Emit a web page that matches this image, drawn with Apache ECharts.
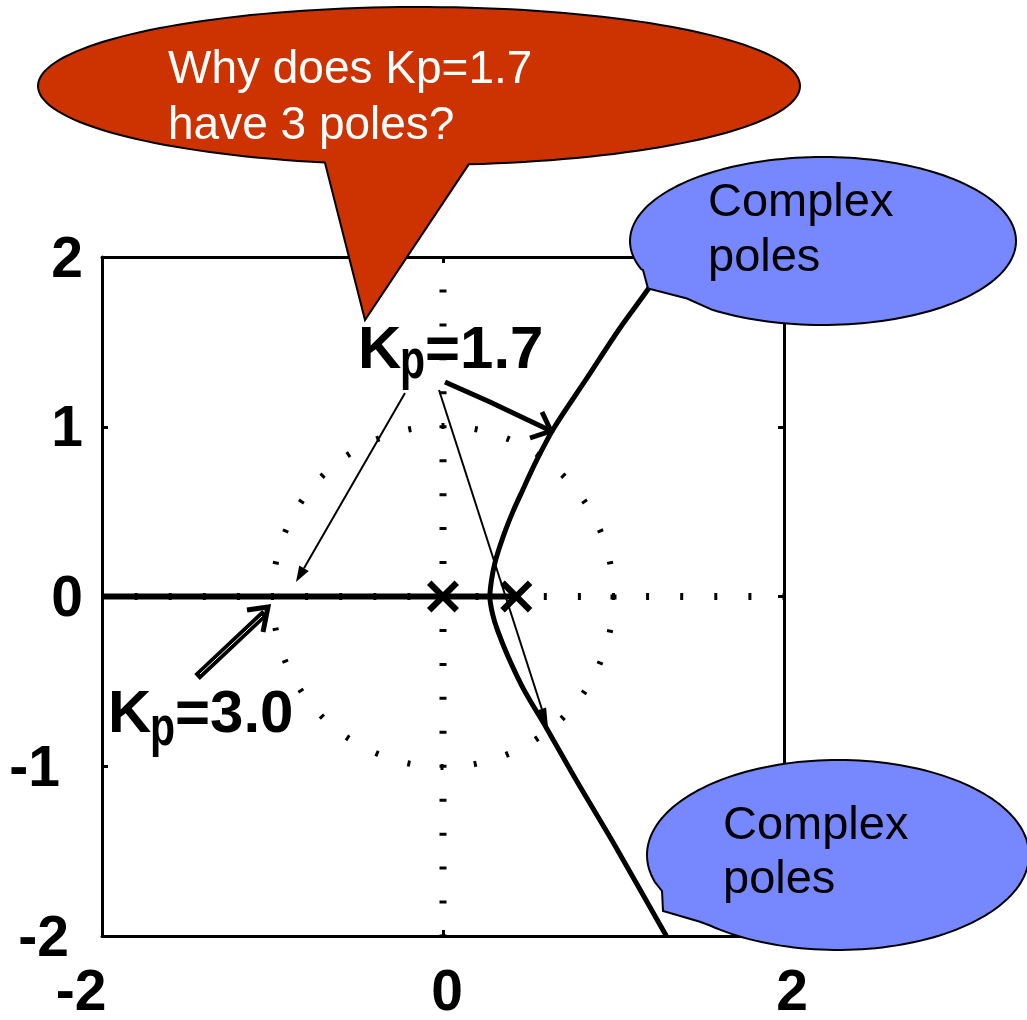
<!DOCTYPE html>
<html>
<head>
<meta charset="utf-8">
<script src="https://cdn.jsdelivr.net/npm/echarts@6/dist/echarts.min.js"></script>
<style>
  html, body { margin: 0; padding: 0; background: #fff; }
  #chart { width: 1027px; height: 1020px; }
</style>
</head>
<body>
<div id="chart"></div>
<script>
// Root locus of the proportional loop (s-plane), with the Kp callouts.
const xTickValues = [-2, 0, 2];
const yTickValues = [-2, -1, 0, 1, 2];
const openLoopPoles = [[0, 0], [0.43, 0]];
const realAxisBranch = [[-2, 0], [0.43, 0]];
const upperBranch = [[0.275, 0], [0.285, 0.1], [0.305, 0.2], [0.335, 0.3], [0.37, 0.4], [0.41, 0.5],
  [0.455, 0.6], [0.548, 0.8], [0.655, 1.0], [0.84, 1.28], [1.03, 1.57], [1.21, 1.82], [1.33, 2.0]];
const lowerBranch = [[0.275, 0], [0.29, -0.1], [0.32, -0.2], [0.38, -0.35], [0.475, -0.55],
  [0.61, -0.78], [0.78, -1.08], [1.01, -1.47], [1.31, -2.0]];
const unitCircle = [[0, 0, 1]];            // centre re, centre im, radius
const imagAxisGuide = [[0, -2], [0, 2]];
const realAxisGuide = [[-2, 0], [2, 0]];

const complexBranch = upperBranch.slice().reverse().concat(lowerBranch.slice(1));

const FONT = '"Liberation Sans", Arial, Helvetica, sans-serif';
const labelBase = { fontFamily: FONT, fontWeight: 'bold', fontSize: 57, lineHeight: 57, color: '#000' };

// speech-bubble outline: elliptical arc from t0 to t1 (degrees) followed by the tail points
function bubble(cx, cy, rx, ry, t0, t1, tail) {
  const pts = [];
  const n = 160;
  for (let i = 0; i <= n; i++) {
    const t = (t0 + (t1 - t0) * i / n) * Math.PI / 180;
    pts.push([cx + rx * Math.cos(t), cy + ry * Math.sin(t)]);
  }
  return pts.concat(tail);
}
// filled arrow head triangle
function headPoints(tip, from, len, half) {
  const dx = tip[0] - from[0], dy = tip[1] - from[1];
  const L = Math.hypot(dx, dy), ux = dx / L, uy = dy / L;
  const bx = tip[0] - ux * len, by = tip[1] - uy * len;
  return { tri: [tip, [bx - uy * half, by + ux * half], [bx + uy * half, by - ux * half]], base: [bx, by] };
}
function thinArrow(from, tip, len, half) {
  const h = headPoints(tip, from, len, half);
  return [
    { type: 'line', z: 60, shape: { x1: from[0], y1: from[1], x2: h.base[0], y2: h.base[1] },
      style: { stroke: '#000', lineWidth: 2 } },
    { type: 'polygon', z: 60, shape: { points: h.tri }, style: { fill: '#000' } }
  ];
}
function kpLabel(x, capMid, pMid, value) {
  return [
    { type: 'text', z: 65, x: x, y: capMid,
      style: { text: 'K', font: 'bold 60px ' + FONT, fill: '#000', textAlign: 'left', textVerticalAlign: 'middle', align: 'left', verticalAlign: 'middle' } },
    { type: 'text', z: 65, x: x + 42, y: pMid, scaleY: 1.35,
      style: { text: 'p', font: 'bold 41px ' + FONT, fill: '#000', textAlign: 'left', textVerticalAlign: 'middle', align: 'left', verticalAlign: 'middle' } },
    { type: 'text', z: 65, x: x + 67, y: capMid,
      style: { text: '=' + value, font: 'bold 60px ' + FONT, fill: '#000', textAlign: 'left', textVerticalAlign: 'middle', align: 'left', verticalAlign: 'middle' } }
  ];
}
function bubbleText(x, y, text, size, color) {
  return { type: 'text', z: 90, x: x, y: y,
    style: { text: text, font: size + 'px ' + FONT, fill: color, textAlign: 'left', textVerticalAlign: 'middle', align: 'left', verticalAlign: 'middle' } };
}

const redBubble = bubble(419, 86, 381, 79, 82.5, -255.7, [[365, 320]]);
const blueUpper = bubble(823, 241, 193, 84, 160.5, 485, [[687, 298.5], [648, 288.5], [643, 270]]);
const blueLower = bubble(838, 855, 191, 95, 163.4, 492.1, [[700, 921.7], [663, 911], [662, 891]]);

const graphics = [].concat(
  // Kp = 1.7 : bold arrow to the complex branch
  [{ type: 'polyline', z: 60, shape: { points: [[445, 382], [490, 402], [549, 430]] },
     style: { stroke: '#000', lineWidth: 5, fill: null } },
   { type: 'polyline', z: 60, shape: { points: [[542, 412], [551, 431], [530, 438]] },
     style: { stroke: '#000', lineWidth: 5, fill: null, lineJoin: 'miter' } }],
  thinArrow([405, 393], [296, 582], 16, 5.5),
  thinArrow([439, 390], [548, 728], 20, 4.5),
  kpLabel(358, 351.5, 363, '1.7'),
  // Kp = 3.0 : outlined arrow to the real-axis pole
  [{ type: 'line', z: 60, shape: { x1: 197, y1: 677, x2: 265, y2: 613 }, style: { stroke: '#000', lineWidth: 8 } },
   { type: 'line', z: 61, shape: { x1: 200, y1: 674, x2: 262, y2: 616 }, style: { stroke: '#fff', lineWidth: 1 } },
   { type: 'polyline', z: 60, shape: { points: [[247, 610], [268, 607], [263, 632]] },
     style: { stroke: '#000', lineWidth: 5, fill: null, lineJoin: 'miter' } }],
  kpLabel(108, 715, 729.5, '3.0'),
  // callout bubbles
  [{ type: 'polygon', z: 80, shape: { points: redBubble }, style: { fill: '#CC3300', stroke: '#000', lineWidth: 2 } },
   bubbleText(168, 70, 'Why does Kp=1.7', 46, '#fff'),
   bubbleText(168, 126.5, 'have 3 poles?', 46, '#fff'),
   { type: 'polygon', z: 80, shape: { points: blueUpper }, style: { fill: '#7788FF', stroke: '#000', lineWidth: 2 } },
   bubbleText(708, 203.5, 'Complex', 47, '#000'),
   bubbleText(708, 258.2, 'poles', 47, '#000'),
   { type: 'polygon', z: 80, shape: { points: blueLower }, style: { fill: '#7788FF', stroke: '#000', lineWidth: 2 } },
   bubbleText(723, 826, 'Complex', 47, '#000'),
   bubbleText(723, 880.5, 'poles', 47, '#000')]
);

const axisLineStyle = { show: true, onZero: false, lineStyle: { color: '#000', width: 3 } };
const tickStyle = { show: true, inside: true, length: 6, lineStyle: { color: '#000', width: 3 } };

const option = {
  animation: false,
  backgroundColor: '#fff',
  grid: { left: 102, top: 257, width: 682, height: 679, containLabel: false, outerBoundsMode: 'none' },
  xAxis: [
    { type: 'value', position: 'bottom', min: -2, max: 2, interval: 2,
      axisLine: axisLineStyle, axisTick: Object.assign({ customValues: xTickValues }, tickStyle),
      splitLine: { show: false },
      axisLabel: Object.assign({}, labelBase, {
        customValues: xTickValues, margin: 30, verticalAlign: 'top', showMinLabel: true, showMaxLabel: true,
        formatter: v => v < 0 ? '{a|' + v + '}' : (v === 0 ? '{b|0}' : '{c|' + v + '}'),
        rich: {
          a: Object.assign({}, labelBase, { padding: [0, 42, 0, 0] }),
          b: Object.assign({}, labelBase, { padding: [0, 0, 0, 8] }),
          c: Object.assign({}, labelBase, { padding: [0, 0, 0, 16] })
        }
      }) },
    { type: 'value', position: 'top', min: -2, max: 2, interval: 2,
      axisLine: axisLineStyle, axisTick: Object.assign({ customValues: xTickValues }, tickStyle),
      splitLine: { show: false }, axisLabel: { show: false } }
  ],
  yAxis: [
    { type: 'value', position: 'left', min: -2, max: 2, interval: 1,
      axisLine: axisLineStyle, axisTick: Object.assign({ customValues: yTickValues }, tickStyle),
      splitLine: { show: false },
      axisLabel: Object.assign({}, labelBase, {
        customValues: yTickValues, margin: 9, showMinLabel: true, showMaxLabel: true,
        formatter: v => v === -1 ? '{m|-1}' : (v === -2 ? '{n|-2}' : '{p|' + v + '}'),
        rich: {
          p: Object.assign({}, labelBase, { padding: [8, 10, 0, 0] }),
          m: Object.assign({}, labelBase, { padding: [8, 33, 0, 0] }),
          n: Object.assign({}, labelBase, { padding: [8, 24, 0, 0] })
        }
      }) },
    { type: 'value', position: 'right', min: -2, max: 2, interval: 1,
      axisLine: axisLineStyle, axisTick: Object.assign({ customValues: yTickValues }, tickStyle),
      splitLine: { show: false }, axisLabel: { show: false } }
  ],
  series: [
    { name: 'imag axis', type: 'line', data: imagAxisGuide, symbol: 'none', silent: true, z: 1,
      lineStyle: { color: '#000', width: 7, type: [3, 30.95], dashOffset: 1.5, cap: 'butt' } },
    { name: 'real axis', type: 'line', data: realAxisGuide, symbol: 'none', silent: true, z: 1,
      lineStyle: { color: '#000', width: 7, type: [3, 31.1], dashOffset: 1.5, cap: 'butt' } },
    { name: 'unit circle', type: 'custom', data: unitCircle, silent: true, z: 1,
      renderItem: (params, api) => {
        const c = api.coord([api.value(0), api.value(1)]);
        const r = api.size([api.value(2), 0])[0];
        return { type: 'circle', shape: { cx: c[0], cy: c[1], r: r },
          style: { fill: 'none', stroke: '#000', lineWidth: 6, lineDash: [3, 30.4] } };
      } },
    { name: 'real-axis locus', type: 'line', data: realAxisBranch, symbol: 'none', z: 3,
      lineStyle: { color: '#000', width: 6 } },
    { name: 'complex locus', type: 'line', data: complexBranch, symbol: 'none', smooth: 0.3, z: 3,
      lineStyle: { color: '#000', width: 5 } },
    { name: 'poles', type: 'scatter', data: openLoopPoles, z: 4,
      symbol: 'path://M0,2.8L2.8,0L10,7.2L17.2,0L20,2.8L12.8,10L20,17.2L17.2,20L10,12.8L2.8,20L0,17.2L7.2,10Z',
      symbolSize: 32, itemStyle: { color: '#000', opacity: 1 } }
  ],
  graphic: { elements: graphics }
};

const chart = echarts.init(document.getElementById('chart'), null, { renderer: 'canvas' });
chart.setOption(option);
</script>
</body>
</html>
